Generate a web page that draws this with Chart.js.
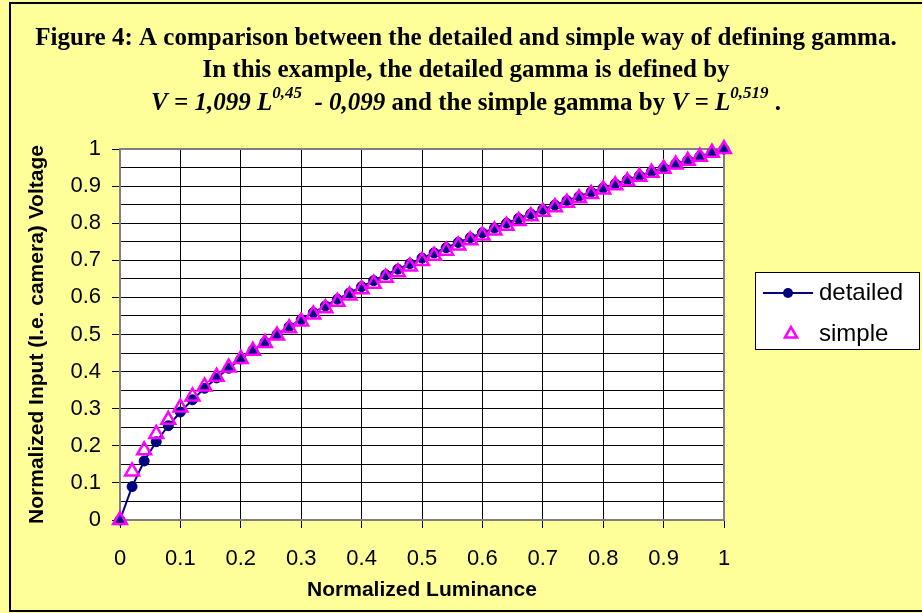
<!DOCTYPE html>
<html>
<head>
<meta charset="utf-8">
<title>Figure 4 - gamma</title>
<script src="https://cdn.jsdelivr.net/npm/chart.js@4.4.1/dist/chart.umd.min.js"></script>
<style>
    html, body { margin: 0; padding: 0; background: #FFFF99; }
    canvas { display: block; }
</style>
</head>
<body>
<canvas id="gammaChart" width="922" height="613"></canvas>
<script>
// Valeurs
const luminance = [0, 0.02, 0.04, 0.06, 0.08, 0.1, 0.12, 0.14, 0.16, 0.18, 0.2,
    0.22, 0.24, 0.26, 0.28, 0.3, 0.32, 0.34, 0.36, 0.38, 0.4,
    0.42, 0.44, 0.46, 0.48, 0.5, 0.52, 0.54, 0.56, 0.58, 0.6,
    0.62, 0.64, 0.66, 0.68, 0.7, 0.72, 0.74, 0.76, 0.78, 0.8,
    0.82, 0.84, 0.86, 0.88, 0.9, 0.92, 0.94, 0.96, 0.98, 1];

const detailed = [0, 0.090, 0.159, 0.211, 0.254, 0.291, 0.324, 0.355, 0.383, 0.409, 0.434,
    0.457, 0.479, 0.500, 0.521, 0.540, 0.559, 0.577, 0.595, 0.612, 0.629,
    0.645, 0.661, 0.676, 0.691, 0.706, 0.720, 0.734, 0.748, 0.761, 0.774,
    0.787, 0.800, 0.813, 0.825, 0.837, 0.849, 0.861, 0.872, 0.884, 0.895,
    0.906, 0.917, 0.928, 0.939, 0.949, 0.960, 0.970, 0.980, 0.990, 1.000];

const simple = [0, 0.131, 0.188, 0.232, 0.270, 0.303, 0.333, 0.360, 0.386, 0.411, 0.434,
    0.456, 0.477, 0.497, 0.517, 0.535, 0.554, 0.571, 0.588, 0.605, 0.622,
    0.637, 0.653, 0.668, 0.683, 0.698, 0.712, 0.726, 0.740, 0.754, 0.767,
    0.780, 0.793, 0.806, 0.819, 0.831, 0.843, 0.855, 0.867, 0.879, 0.891,
    0.902, 0.913, 0.925, 0.936, 0.947, 0.958, 0.968, 0.979, 0.990, 1.000];

const xTickLabels = ['0', '0.1', '0.2', '0.3', '0.4', '0.5', '0.6', '0.7', '0.8', '0.9', '1'];
const yTickLabels = ['0', '0.1', '0.2', '0.3', '0.4', '0.5', '0.6', '0.7', '0.8', '0.9', '1'];

const seriesNames = ['detailed', 'simple'];

const titleLines = [
    [{ t: 'Figure 4: A comparison between the detailed and simple way of defining gamma.' }],
    [{ t: 'In this example, the detailed gamma is defined by' }],
    [
        { t: 'V = 1,099 L', i: true },
        { t: '0,45', i: true, sup: true },
        { t: '  - 0,099', i: true },
        { t: ' and the simple gamma by ' },
        { t: 'V = L', i: true },
        { t: '0,519', i: true, sup: true },
        { t: ' .' }
    ]
];

const NAVY = '#000080';
const MAGENTA = '#FF00FF';

function toPoints(ys) {
    return luminance.map((x, i) => ({ x: x, y: ys[i] }));
}

// fond jaune + zone de tracé blanche
const backgroundPlugin = {
    id: 'background',
    beforeDraw(chart) {
        const { ctx, chartArea: a } = chart;
        ctx.save();
        ctx.fillStyle = '#FFFF99';
        ctx.fillRect(0, 0, chart.width, chart.height);
        ctx.fillStyle = '#ffffff';
        ctx.fillRect(a.left, a.top, a.right - a.left, a.bottom - a.top);
        ctx.restore();
    },
    beforeDatasetsDraw(chart) {
        const { ctx, chartArea: a } = chart;
        ctx.save();
        ctx.strokeStyle = '#808080';
        ctx.lineWidth = 2;
        ctx.strokeRect(a.left, a.top, a.right - a.left, a.bottom - a.top);
        ctx.restore();
    }
};

function drawRichLine(ctx, segs, cx, baseline) {
    const fontFor = s => (s.i ? 'italic ' : '') + 'bold ' + (s.sup ? 17 : 25) + 'px "Liberation Serif"';
    let total = 0;
    segs.forEach(s => { ctx.font = fontFor(s); total += ctx.measureText(s.t).width; });
    let x = cx - total / 2;
    segs.forEach(s => {
        ctx.font = fontFor(s);
        ctx.fillText(s.t, x, s.sup ? baseline - 12 : baseline);
        x += ctx.measureText(s.t).width;
    });
}

// titre, légende et cadre
const overlayPlugin = {
    id: 'overlay',
    afterDraw(chart) {
        const ctx = chart.ctx;
        ctx.save();
        ctx.fillStyle = '#000';
        ctx.textBaseline = 'alphabetic';
        ctx.textAlign = 'left';
        const baselines = [45, 77, 110];
        titleLines.forEach((segs, k) => drawRichLine(ctx, segs, 466, baselines[k]));

        // légende
        ctx.fillStyle = '#fff';
        ctx.fillRect(755, 272, 165, 78);
        ctx.strokeStyle = '#000';
        ctx.lineWidth = 1;
        ctx.strokeRect(755.5, 272.5, 164, 77);

        ctx.strokeStyle = NAVY;
        ctx.lineWidth = 2;
        ctx.beginPath();
        ctx.moveTo(763, 293);
        ctx.lineTo(813, 293);
        ctx.stroke();
        ctx.fillStyle = NAVY;
        ctx.beginPath();
        ctx.arc(788, 293, 5, 0, Math.PI * 2);
        ctx.fill();

        ctx.strokeStyle = MAGENTA;
        ctx.lineWidth = 2.5;
        const r = 7, tx = 791, ty = 334;
        ctx.beginPath();
        for (let k = 0; k < 3; k++) {
            const ang = k * 2 * Math.PI / 3;
            const px = tx + Math.sin(ang) * r, py = ty - Math.cos(ang) * r;
            if (k === 0) ctx.moveTo(px, py); else ctx.lineTo(px, py);
        }
        ctx.closePath();
        ctx.stroke();

        ctx.fillStyle = '#000';
        ctx.font = '24px "Liberation Sans"';
        ctx.textBaseline = 'middle';
        ctx.fillText(seriesNames[0], 819, 293);
        ctx.fillText(seriesNames[1], 819, 334);

        // cadre extérieur
        ctx.strokeStyle = '#000';
        ctx.lineWidth = 2;
        ctx.beginPath();
        ctx.moveTo(924, 3);
        ctx.lineTo(10, 3);
        ctx.lineTo(10, 611);
        ctx.lineTo(924, 611);
        ctx.stroke();
        ctx.restore();
    }
};

const ctx = document.getElementById('gammaChart').getContext('2d');

new Chart(ctx, {
    type: 'line',
    data: {
        datasets: [{
            label: seriesNames[0],
            data: toPoints(detailed),
            borderColor: NAVY,
            backgroundColor: NAVY,
            borderWidth: 2,
            pointStyle: 'circle',
            pointRadius: 5,
            pointBorderWidth: 1,
            pointBackgroundColor: NAVY,
            pointBorderColor: NAVY,
            tension: 0,
            order: 1
        }, {
            label: seriesNames[1],
            data: toPoints(simple),
            showLine: false,
            pointStyle: 'triangle',
            pointRadius: 8,
            pointBorderWidth: 2.5,
            pointBorderColor: MAGENTA,
            pointBackgroundColor: 'rgba(0,0,0,0)',
            borderColor: MAGENTA,
            order: 0
        }]
    },
    options: {
        responsive: false,
        animation: false,
        clip: false,
        layout: {
            padding: { left: 0, right: 198, top: 149, bottom: 0 }
        },
        plugins: {
            legend: { display: false },
            tooltip: { enabled: false }
        },
        scales: {
            x: {
                type: 'linear',
                min: 0,
                max: 1,
                afterFit: function(scale) { scale.height = 93; },
                ticks: {
                    stepSize: 0.1,
                    autoSkip: false,
                    maxRotation: 0,
                    padding: 18,
                    color: '#000',
                    font: { family: '"Liberation Sans"', size: 22 },
                    callback: function(value, index) { return xTickLabels[index]; }
                },
                grid: {
                    color: '#000',
                    lineWidth: 1,
                    tickLength: 8,
                    tickColor: '#000'
                },
                border: { display: false },
                title: {
                    display: true,
                    text: 'Normalized Luminance',
                    color: '#000',
                    font: { family: '"Liberation Sans"', size: 21, weight: 'bold' },
                    padding: { top: 0, bottom: 10 }
                }
            },
            y: {
                min: 0,
                max: 1,
                afterFit: function(scale) { scale.width = 120; },
                ticks: {
                    stepSize: 0.05,
                    autoSkip: false,
                    padding: 11,
                    color: '#000',
                    font: { family: '"Liberation Sans"', size: 22 },
                    callback: function(value, index) {
                        return index % 2 === 0 ? yTickLabels[index / 2] : '';
                    }
                },
                grid: {
                    color: '#000',
                    lineWidth: 1,
                    tickLength: 8,
                    tickColor: function(c) {
                        return c.index % 2 === 0 ? '#000' : 'rgba(0,0,0,0)';
                    }
                },
                border: { display: false },
                title: {
                    display: true,
                    text: 'Normalized Input (I.e. camera) Voltage',
                    color: '#000',
                    font: { family: '"Liberation Sans"', size: 21, weight: 'bold' },
                    padding: { top: 25, bottom: 0 }
                }
            }
        }
    },
    plugins: [backgroundPlugin, overlayPlugin]
});
</script>
</body>
</html>
